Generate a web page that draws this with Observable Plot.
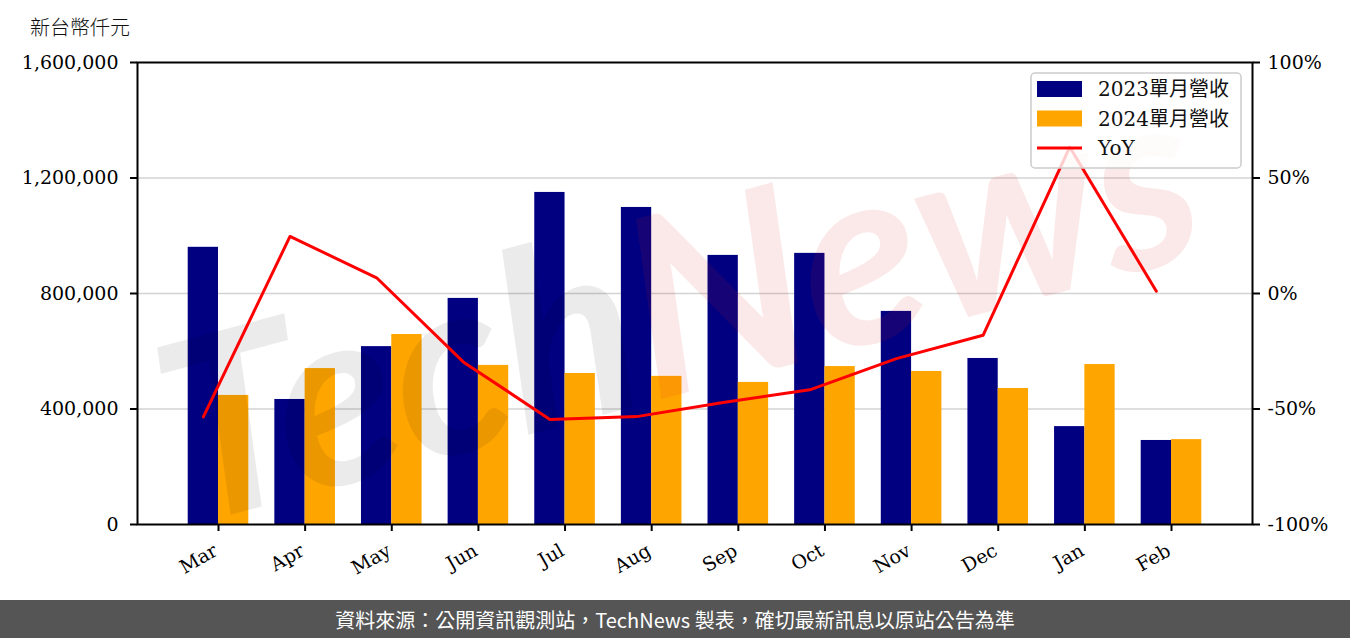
<!DOCTYPE html>
<html><head><meta charset="utf-8">
<script src="https://cdn.jsdelivr.net/npm/d3@7"></script>
<script src="https://cdn.jsdelivr.net/npm/@observablehq/plot@0.6"></script>
<style>
body{margin:0;background:#fff;width:1350px;height:638px;overflow:hidden}
#title{height:45px;position:relative}
#title span{position:absolute;left:30px;top:12px;font-family:"Noto Sans CJK TC",sans-serif;font-size:20px;font-weight:300;color:#111;line-height:29px}
#chart{height:555px}
#chart svg{display:block}
#footer{height:38px;background:#555555;color:#fff;font-family:"Noto Sans CJK TC",sans-serif;font-size:20px;font-weight:400;display:flex;align-items:center;justify-content:center}
</style></head><body>
<div id="title"><span>新台幣仟元</span></div>
<div id="chart"></div>
<div id="footer">資料來源：公開資訊觀測站，TechNews 製表，確切最新訊息以原站公告為準</div>
<script>
const months = ["Mar","Apr","May","Jun","Jul","Aug","Sep","Oct","Nov","Dec","Jan","Feb"];
const rev2023 = [960000, 433000, 616000, 783000, 1150000, 1098000, 932000, 939000, 738000, 575000, 339000, 291000];
const rev2024 = [447000, 540000, 658000, 551000, 523000, 513000, 492000, 547000, 530000, 471000, 554000, 294000];
const yoy = [-53.4, 24.7, 6.8, -29.6, -54.5, -53.3, -47.2, -41.7, -28.2, -18.1, 63.4, 1.0];
const leftTicks = [0, 400000, 800000, 1200000, 1600000];
const rightTickLabels = ["-100%", "-50%", "0%", "50%", "100%"];
const seriesNames = ["2023單月營收", "2024單月營收", "YoY"];
const colors = ["#000080", "#ffa500", "#ff0000"];
const YMAX = 1600000;
const yoyRange = [-100, 100];

const data = months.map((m, i) => ({month: m, v23: rev2023[i], v24: rev2024[i], yoy: yoy[i]}));
const toLeft = v => (v - yoyRange[0]) / (yoyRange[1] - yoyRange[0]) * YMAX;

const half = 43.32, bw = 30.3;
const fontLatin = "'DejaVu Serif', 'Noto Sans CJK TC', serif";

const chart = Plot.plot({
  width: 1350, height: 555,
  marginTop: 17, marginBottom: 76, marginLeft: 137, marginRight: 98,
  style: {fontFamily: fontLatin, fontSize: "19px", color: "#000", background: "transparent", overflow: "visible"},
  x: {domain: months, paddingInner: 0, paddingOuter: 0.435, align: 0.5, round: false},
  y: {domain: [0, YMAX]},
  marks: [
    Plot.ruleY(leftTicks.slice(1, -1), {stroke: "#d3d3d3", strokeWidth: 1.5}),
    Plot.barY(data, {x: "month", y: "v23", fill: colors[0], insetLeft: half - bw, insetRight: half}),
    Plot.barY(data, {x: "month", y: "v24", fill: colors[1], insetLeft: half, insetRight: half - bw}),
    Plot.line(data, {x: "month", y: d => toLeft(d.yoy), stroke: colors[2], strokeWidth: 3, dx: -bw / 2}),
    Plot.axisY({ticks: leftTicks, tickFormat: d3.format(","), tickSize: 7, tickPadding: 12, fontSize: 19, label: null, strokeWidth: 2}),
    Plot.axisY({anchor: "right", ticks: leftTicks, tickFormat: (d, i) => rightTickLabels[i], tickSize: 7, tickPadding: 8, fontSize: 19, label: null, strokeWidth: 2}),
    Plot.axisX({tickRotate: -30, tickSize: 7, tickPadding: 8, fontSize: 19, label: null, strokeWidth: 2, textStroke: null}),
    Plot.frame({stroke: "#000", strokeWidth: 2})
  ]
});
document.getElementById("chart").appendChild(chart);

const svg = d3.select(chart);
// shift rotated x tick labels to match
svg.selectAll("g[aria-label='x-axis tick label'] text").attr("dx", -7).attr("dy", 7);

// watermark, drawn between bars and line
const wm = svg.insert("g", "g[aria-label=line]").attr("pointer-events", "none");
const wt = wm.append("text")
  .attr("transform", "translate(676,250) rotate(-15)")
  .attr("text-anchor", "middle").attr("dominant-baseline", "central")
  .attr("font-family", "Lato, sans-serif").attr("font-weight", 700).attr("font-style", "italic")
  .attr("font-size", 250);
wt.append("tspan").attr("fill", "rgba(0,0,0,0.08)").text("Tech");
wt.append("tspan").attr("fill", "rgba(220,40,40,0.1)").text("News");

// legend
const lg = svg.append("g").attr("transform", "translate(1031,28)");
lg.append("rect").attr("width", 210).attr("height", 95).attr("rx", 4)
  .attr("fill", "rgba(255,255,255,0.8)").attr("stroke", "#cccccc").attr("stroke-width", 1.5);
seriesNames.forEach((name, i) => {
  const cy = 16 + i * 29.5;
  if (i < 2) lg.append("rect").attr("x", 6).attr("y", cy - 8).attr("width", 45).attr("height", 16).attr("fill", colors[i]);
  else lg.append("line").attr("x1", 6).attr("x2", 51).attr("y1", cy).attr("y2", cy).attr("stroke", colors[i]).attr("stroke-width", 3);
  lg.append("text").attr("x", 67).attr("y", cy).attr("dy", "0.35em").attr("text-anchor", "start")
    .attr("font-family", fontLatin).attr("font-size", 20).attr("fill", "#111").text(name);
});
</script>
</body></html>
